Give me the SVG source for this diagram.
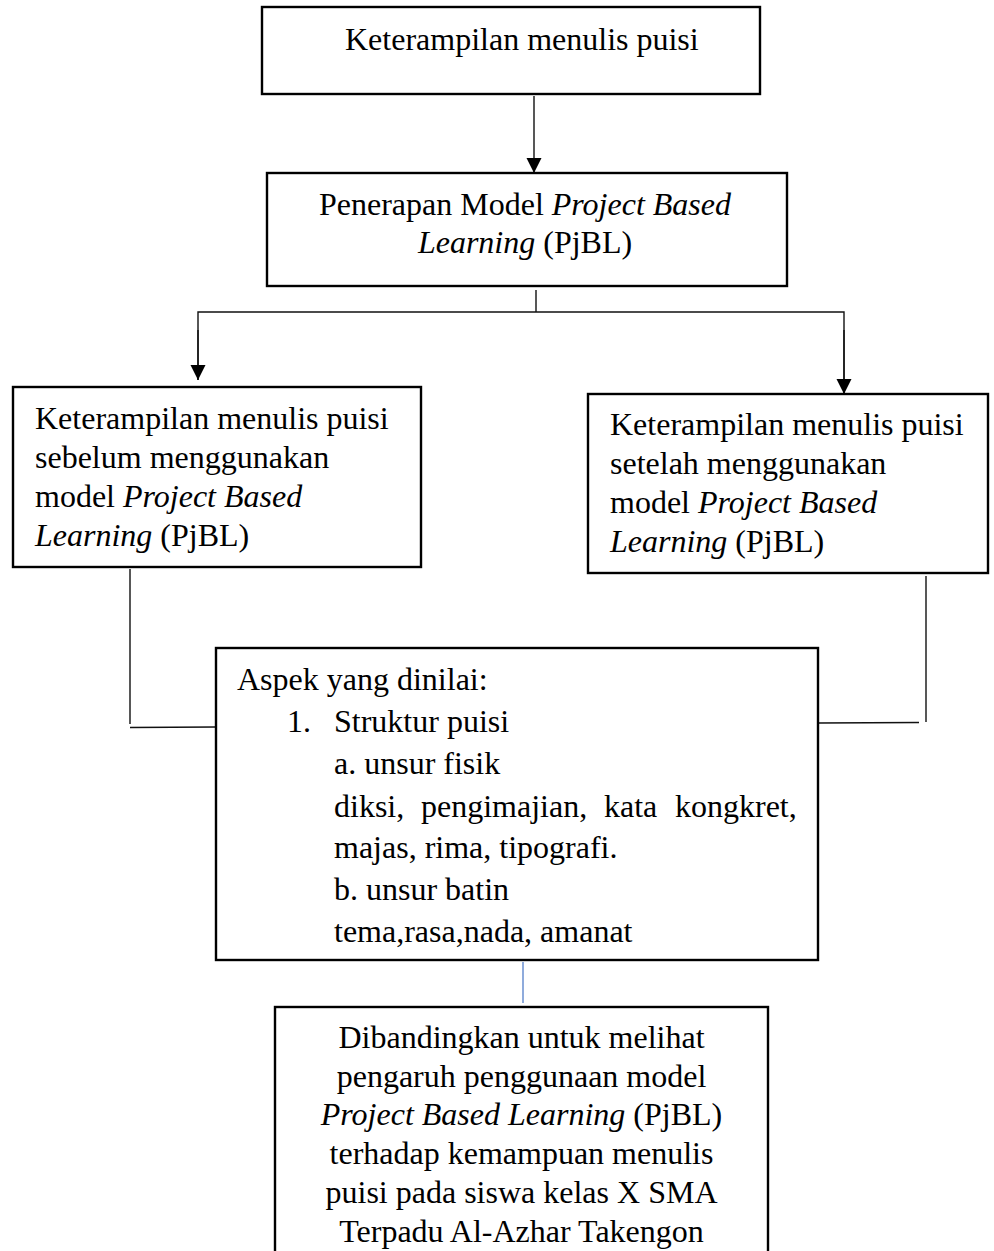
<svg xmlns="http://www.w3.org/2000/svg" width="994" height="1251" viewBox="0 0 994 1251">
<style>
.box{fill:#fff;stroke:#000;stroke-width:2.4}
.t{font-family:"Liberation Serif","Times New Roman",serif;font-size:32px;fill:#000}
.i{font-style:italic}
.c{stroke:#111;stroke-width:1.4;fill:none}
.blue{stroke:#7396d4;stroke-width:1.6;fill:none}
</style>
<defs>
<marker id="ah" markerWidth="16" markerHeight="16" refX="15" refY="7.5" orient="auto" markerUnits="userSpaceOnUse">
<path d="M0,0 L15,7.5 L0,15 Z" fill="#000"/>
</marker>
</defs>
<rect width="994" height="1251" fill="#fff"/>
<g id="connectors">
<line class="c" x1="534" y1="96" x2="534" y2="173" marker-end="url(#ah)"/>
<line class="c" x1="536" y1="290" x2="536" y2="312"/>
<polyline class="c" points="198,380 198,312 844,312 844,394"/>
<line class="c" x1="198" y1="330" x2="198" y2="380" marker-end="url(#ah)"/>
<line class="c" x1="844" y1="330" x2="844" y2="394" marker-end="url(#ah)"/>
<line class="c" x1="130" y1="569" x2="130" y2="724"/>
<line class="c" x1="130" y1="727.5" x2="216" y2="727"/>
<line class="c" x1="926" y1="576" x2="926" y2="722"/>
<line class="c" x1="818" y1="723" x2="919" y2="722.5"/>
<line class="blue" x1="523" y1="962" x2="523" y2="1003"/>
</g>
<g id="node1">
<rect class="box" x="262" y="7" width="498" height="87"/>
<text class="t" x="345" y="50">Keterampilan menulis puisi</text>
</g>
<g id="node2">
<rect class="box" x="267" y="173" width="520" height="113"/>
<text class="t" x="525" y="215" text-anchor="middle">Penerapan Model <tspan class="i">Project Based</tspan></text>
<text class="t" x="525" y="253" text-anchor="middle"><tspan class="i">Learning</tspan> (PjBL)</text>
</g>
<g id="node3">
<rect class="box" x="13" y="387" width="408" height="180"/>
<text class="t" x="35" y="429">Keterampilan menulis puisi</text>
<text class="t" x="35" y="468">sebelum menggunakan</text>
<text class="t" x="35" y="507">model <tspan class="i">Project Based</tspan></text>
<text class="t" x="35" y="546"><tspan class="i">Learning</tspan> (PjBL)</text>
</g>
<g id="node4">
<rect class="box" x="588" y="394" width="400" height="179"/>
<text class="t" x="610" y="435">Keterampilan menulis puisi</text>
<text class="t" x="610" y="474">setelah menggunakan</text>
<text class="t" x="610" y="513">model <tspan class="i">Project Based</tspan></text>
<text class="t" x="610" y="552"><tspan class="i">Learning</tspan> (PjBL)</text>
</g>
<g id="node5">
<rect class="box" x="216" y="648" width="602" height="312"/>
<text class="t" x="237" y="690">Aspek yang dinilai:</text>
<text class="t" x="287" y="732">1.</text>
<text class="t" x="334" y="732">Struktur puisi</text>
<text class="t" x="334" y="774">a. unsur fisik</text>
<text class="t" y="817"><tspan x="334">diksi,</tspan><tspan x="421">pengimajian,</tspan><tspan x="604">kata</tspan><tspan x="675">kongkret,</tspan></text>
<text class="t" x="334" y="858">majas, rima, tipografi.</text>
<text class="t" x="334" y="900">b. unsur batin</text>
<text class="t" x="334" y="942">tema,rasa,nada, amanat</text>
</g>
<g id="node6">
<rect class="box" x="275" y="1007" width="493" height="260"/>
<text class="t" x="521.5" y="1048" text-anchor="middle">Dibandingkan untuk melihat</text>
<text class="t" x="521.5" y="1087" text-anchor="middle">pengaruh penggunaan model</text>
<text class="t" x="521.5" y="1125" text-anchor="middle"><tspan class="i">Project Based Learning</tspan> (PjBL)</text>
<text class="t" x="521.5" y="1164" text-anchor="middle">terhadap kemampuan menulis</text>
<text class="t" x="521.5" y="1203" text-anchor="middle">puisi pada siswa kelas X SMA</text>
<text class="t" x="521.5" y="1242" text-anchor="middle">Terpadu Al-Azhar Takengon</text>
</g>
</svg>
